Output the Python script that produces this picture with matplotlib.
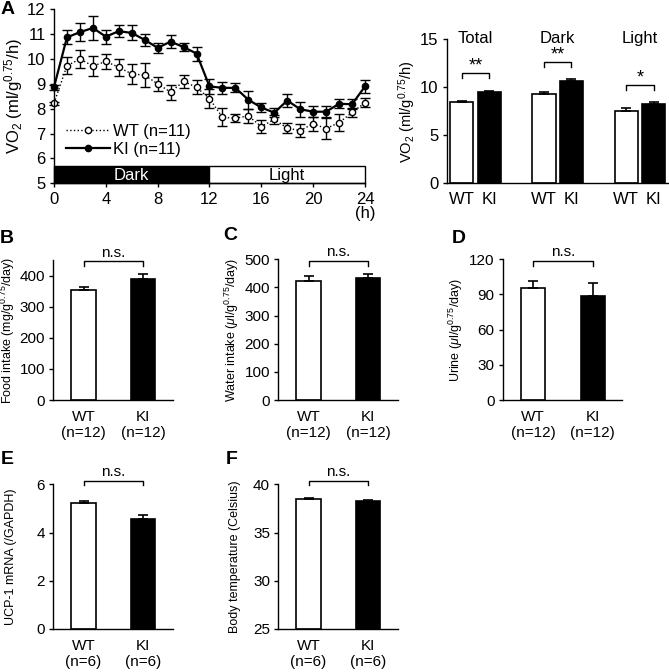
import numpy as np
import matplotlib
matplotlib.use('Agg')
import matplotlib.pyplot as plt
from matplotlib.lines import Line2D

plt.rcParams['font.family'] = ['Liberation Sans', 'DejaVu Sans']
plt.rcParams['mathtext.fontset'] = 'custom'
plt.rcParams['mathtext.rm'] = 'Liberation Sans'
plt.rcParams['mathtext.it'] = 'Liberation Sans:italic'
plt.rcParams['axes.linewidth'] = 1.0
plt.rcParams['xtick.major.width'] = 1.0
plt.rcParams['ytick.major.width'] = 1.0

# A: VO2 time course (hours 0..24)
hours = np.arange(25)
vo2_wt = [8.22, 9.73, 10.0, 9.72, 9.9, 9.67, 9.4, 9.35, 9.0, 8.67, 9.1, 8.86, 8.41,
          7.65, 7.62, 7.71, 7.28, 7.57, 7.22, 7.12, 7.4, 7.2, 7.44, 7.85, 8.24]
vo2_wt_err = [0.05, 0.35, 0.35, 0.4, 0.32, 0.35, 0.39, 0.47, 0.28, 0.3, 0.25, 0.28, 0.39,
              0.36, 0.15, 0.27, 0.25, 0.17, 0.2, 0.27, 0.28, 0.42, 0.33, 0.19, 0.19]
vo2_ki = [8.87, 10.87, 11.08, 11.25, 10.9, 11.12, 11.05, 10.77, 10.45, 10.7, 10.48, 10.22, 8.9,
          8.84, 8.84, 8.36, 8.05, 7.84, 8.33, 7.98, 7.88, 7.88, 8.2, 8.18, 8.9]
vo2_ki_err = [0.1, 0.28, 0.37, 0.47, 0.28, 0.25, 0.3, 0.25, 0.2, 0.26, 0.15, 0.28, 0.3,
              0.25, 0.18, 0.37, 0.17, 0.18, 0.25, 0.3, 0.23, 0.22, 0.18, 0.2, 0.27]

# A: VO2 averages
periods = ['Total', 'Dark', 'Light']
avg_wt = [8.44, 9.34, 7.53]
avg_wt_err = [0.17, 0.17, 0.28]
avg_ki = [9.48, 10.66, 8.3]
avg_ki_err = [0.17, 0.24, 0.17]
avg_sig = ['**', '**', '*']

# B-F
food = [355, 390]
food_err = [7.5, 14]
water = [424, 434]
water_err = [17, 15]
urine = [95.3, 89]
urine_err = [6.2, 10.5]
ucp1 = [5.21, 4.55]
ucp1_err = [0.1, 0.18]
temp = [38.5, 38.28]
temp_err = [0.1, 0.1]
labels_12 = ['WT\n(n=12)', 'KI\n(n=12)']
labels_6 = ['WT\n(n=6)', 'KI\n(n=6)']

W, H = 669, 672
fig = plt.figure(figsize=(W / 100, H / 100), dpi=100)


def add_ax(l, r, t, b):
    return fig.add_axes([l / W, 1 - b / H, (r - l) / W, (b - t) / H])


def clean(ax):
    ax.spines['top'].set_visible(False)
    ax.spines['right'].set_visible(False)


# ---- A: time course ----
ax = add_ax(54, 365, 9.3, 183.3)
clean(ax)
ax.add_patch(plt.Rectangle((0, 5), 12, 0.7, facecolor='black', edgecolor='black', lw=1, clip_on=False))
ax.add_patch(plt.Rectangle((12, 5), 12, 0.7, facecolor='white', edgecolor='black', lw=1, clip_on=False))
ax.text(6, 5.33, 'Dark', color='white', ha='center', va='center', fontsize=12)
ax.text(18, 5.33, 'Light', color='black', ha='center', va='center', fontsize=12)
ax.errorbar(hours, vo2_wt, yerr=vo2_wt_err, fmt='o:', color='black', mfc='white', mec='black',
            ms=4.5, lw=1, elinewidth=1, capsize=3.6, capthick=1, clip_on=False)
ax.errorbar(hours, vo2_ki, yerr=vo2_ki_err, fmt='o-', color='black', mfc='black', mec='black',
            ms=4.5, lw=1.6, elinewidth=1, capsize=3.6, capthick=1, clip_on=False)
handles = [Line2D([], [], ls=':', lw=1, color='black', marker='o', mfc='white', ms=4.5),
           Line2D([], [], ls='-', lw=1.6, color='black', marker='o', mfc='black', ms=4.5)]
ax.legend(handles, ['WT (n=11)', 'KI (n=11)'], loc='lower left', bbox_to_anchor=(0.04, 0.15),
          frameon=False, fontsize=12, handlelength=2.6, handletextpad=0.2, labelspacing=0.2,
          borderaxespad=0, borderpad=0)
ax.set_xlim(0, 24)
ax.set_ylim(5, 12)
ax.set_xticks(range(0, 25, 4))
ax.set_xticklabels(['0', '4', '8', '12', '16', '20', '24\n(h)'])
ax.set_yticks(range(5, 13))
ax.tick_params(labelsize=12, length=3, pad=3)
ax.xaxis.get_ticklabels()[-1].set_linespacing(0.95)
ax.set_ylabel('VO$_2$ (ml/g$^{0.75}$/h)', fontsize=12)
ax.yaxis.set_label_coords(-0.093, 0.5)

# ---- A: averages ----
ax = add_ax(447, 668, 39.3, 183.3)
clean(ax)
for g, p in enumerate(periods):
    x0 = 3 * g
    ax.bar([x0, x0 + 1], [avg_wt[g], avg_ki[g]], width=0.85, color=['white', 'black'],
           edgecolor='black', lw=1.2)
    ax.errorbar([x0, x0 + 1], [avg_wt[g], avg_ki[g]],
                yerr=[[0, 0], [avg_wt_err[g], avg_ki_err[g]]], fmt='none', ecolor='black',
                elinewidth=1.2, capsize=3.6, capthick=1.2)
    ax.text(x0 + 0.5, 15.1, p, ha='center', va='center', fontsize=12)
ax.plot([0, 0, 1, 1], [10.94, 11.53, 11.53, 10.94], color='black', lw=1)
ax.plot([3, 3, 4, 4], [12.15, 12.67, 12.67, 12.15], color='black', lw=1)
ax.plot([6, 6, 7, 7], [9.72, 10.24, 10.24, 9.72], color='black', lw=1)
for g, y in zip(range(3), [11.53, 12.67, 10.24]):
    ax.annotate(avg_sig[g], (3 * g + 0.5, y), xytext=(0, -1), textcoords='offset points',
                ha='center', va='bottom', fontsize=13)
ax.set_xlim(-0.54, 7.52)
ax.set_ylim(0, 15)
ax.set_yticks([0, 5, 10, 15])
ax.set_xticks([0, 1, 3, 4, 6, 7])
ax.set_xticklabels(['WT', 'KI'] * 3)
ax.tick_params(axis='x', length=0, pad=6)
ax.tick_params(labelsize=12)
ax.tick_params(axis='y', length=3, pad=3)
ax.set_ylabel('VO$_2$ (ml/g$^{0.75}$/h)', fontsize=10.5)
ax.yaxis.set_label_coords(-0.131, 0.5)


def bar_pair(ax, means, errs, xlabels, bottom, top, ticks, ylabel, br_top, br_leg, lab_x):
    clean(ax)
    ax.bar([0, 1], np.array(means) - bottom, bottom=bottom, width=0.41,
           color=['white', 'black'], edgecolor='black', lw=1.2)
    ax.errorbar([0, 1], means, yerr=[[0, 0], errs], fmt='none', ecolor='black',
                elinewidth=1.2, capsize=3.6, capthick=1.2)
    ax.plot([0, 0, 1, 1], [br_leg, br_top, br_top, br_leg], color='black', lw=1, clip_on=False)
    ax.annotate('n.s.', (0.5, br_top), xytext=(0, 1), textcoords='offset points',
                ha='center', va='bottom', fontsize=11, annotation_clip=False)
    ax.set_xlim(-0.51, 1.5)
    ax.set_ylim(bottom, top)
    ax.set_yticks(ticks)
    ax.set_xticks([0, 1])
    ax.set_xticklabels(xlabels)
    ax.tick_params(labelsize=11)
    ax.tick_params(axis='x', length=0, pad=7)
    ax.tick_params(axis='y', length=3, pad=3)
    ax.set_ylabel(ylabel, fontsize=9)
    ax.yaxis.set_label_coords(lab_x, 0.5)


bar_pair(add_ax(53.3, 172.7, 260, 400), food, food_err, labels_12, 0, 450,
         [0, 100, 200, 300, 400], 'Food intake (mg/g$^{0.75}$/day)', 446, 430, -0.305)
bar_pair(add_ax(278.3, 397.7, 259.3, 400), water, water_err, labels_12, 0, 500,
         [0, 100, 200, 300, 400, 500], r'Water intake ($\mu$l/g$^{0.75}$/day)', 495, 477, -0.315)
bar_pair(add_ax(503, 622.4, 259.3, 400), urine, urine_err, labels_12, 0, 120,
         [0, 30, 60, 90, 120], r'Urine ($\mu$l/g$^{0.75}$/day)', 118.8, 114.5, -0.315)
bar_pair(add_ax(53.3, 172.7, 484.3, 629), ucp1, ucp1_err, labels_6, 0, 6,
         [0, 2, 4, 6], 'UCP-1 mRNA (/GAPDH)', 6.15, 5.97, -0.305)
bar_pair(add_ax(278.3, 397.7, 484.3, 629), temp, temp_err, labels_6, 25, 40,
         [25, 30, 35, 40], 'Body temperature (Celsius)', 40.38, 39.93, -0.315)

for lab, x, y in [('A', 8, 10), ('B', 7, 238), ('C', 230, 236), ('D', 459, 238),
                  ('E', 7, 459), ('F', 232, 459)]:
    fig.text(x / W, 1 - y / H, lab, fontsize=14, fontweight='bold', ha='center', va='center')

fig.savefig('out.png', dpi=100)
